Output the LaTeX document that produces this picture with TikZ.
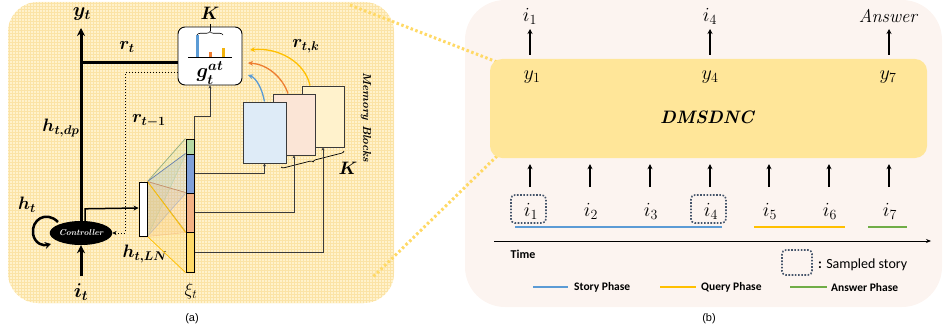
\RequirePackage{fix-cm}
\documentclass[tikz,border=0pt]{standalone}
\usepackage{fontspec}
\usepackage{amsmath}
\newfontfamily\califont{Carlito}
\newfontfamily\arialfont{Liberation Sans}
\usetikzlibrary{arrows.meta,decorations.pathreplacing,calc,shapes.geometric}
\definecolor{panelA}{HTML}{FFF2CC}
\definecolor{gridA}{HTML}{FBE3A6}
\definecolor{panelB}{HTML}{FCF4F0}
\definecolor{dmsbox}{HTML}{FFE699}
\definecolor{dotY}{HTML}{FFD966}
\definecolor{memB}{HTML}{DEEBF7}
\definecolor{memP}{HTML}{FBE5D6}
\definecolor{memY}{HTML}{FFF2CC}
\definecolor{xiG}{HTML}{B5D8A2}
\definecolor{xiB}{HTML}{7F9FD8}
\definecolor{xiO}{HTML}{F4B183}
\definecolor{xiY}{HTML}{FFD966}
\definecolor{lnB}{HTML}{5B9BD5}
\definecolor{lnO}{HTML}{ED7D31}
\definecolor{lnY}{HTML}{FFC000}
\definecolor{lnG}{HTML}{70AD47}
\definecolor{slate}{HTML}{44546A}
\definecolor{wire}{HTML}{3A3A3A}
\tikzset{
  mlab/.style={font=\fontsize{18}{21}\selectfont\boldmath, inner sep=0pt},
  ilab/.style={font=\fontsize{20}{23}\selectfont, inner sep=0pt},
  wirearr/.style={draw=wire, line width=0.9pt, -{Stealth[length=3pt,width=3pt]}},
  membox/.style={draw=wire, line width=0.9pt, minimum width=43pt, minimum height=61pt, inner sep=0pt},
  xiseg/.style={draw=black, line width=1pt, minimum width=8pt, inner sep=0pt},
  ydots/.style={draw=dotY, line width=3pt, dash pattern=on 2.5pt off 2.5pt},
  sampbox/.style={draw=slate, line width=1.6pt, dash pattern=on 1.6pt off 1.6pt, rounded corners=4pt},
  phase/.style={line width=2pt},
  legtxt/.style={font=\califont\bfseries\fontsize{11.5}{13}\selectfont, anchor=west, inner sep=0pt},
}
\begin{document}
\begin{tikzpicture}[x=1pt,y=-1pt]
\useasboundingbox (0,0) rectangle (947,334);
% panels
\fill[panelA, rounded corners=30pt] (8,2) rectangle (394,303);
\begin{scope}
\clip[rounded corners=30pt] (8,2) rectangle (394,303);
\draw[gridA, line width=0.35pt, step=3pt] (8,2) grid (394,303);
\end{scope}
\fill[panelB, rounded corners=40pt] (465,0) rectangle (942,307);

% yellow dotted connectors
\coordinate (za) at (350,5);
\coordinate (zb) at (373,277);
\coordinate (zc) at (497,62);
\coordinate (zd) at (497,156);
\draw[ydots] (za) -- (zc);
\draw[ydots] (zd) -- (zb);

%================ panel (a) ================
% controller
\node[ellipse, fill=black, minimum width=55pt, minimum height=24pt, inner sep=0pt,
      font=\fontsize{8.5}{10}\selectfont\bfseries\itshape, text=white] (ctrl) at (81,233) {Controller};
% g box
\node[draw=black, line width=0.9pt, fill=white, rounded corners=7pt, minimum width=64pt, minimum height=58pt, inner sep=0pt] (g) at (210,56) {};
\node[font=\fontsize{20}{23}\selectfont\boldmath, inner sep=0pt] (glab) at (210,73) {$g_t^{at}$};
\draw[line width=0.9pt] (188,57) -- (232,57);
\fill[lnB] (196,35) rectangle (199,57);
\fill[lnO] (208.5,52) rectangle (211.5,57);
\fill[lnY!80!brown] (221.5,48) rectangle (224.5,57);
\draw[line width=0.6pt, decorate, decoration={brace, amplitude=3.5pt}] (197,35) -- (223,35);
\draw[line width=0.6pt] (210,31.5) -- (210,24);
\node[mlab] (Kg) at (210,13) {$K$};

% h_LN bar
\node[draw=black, line width=0.9pt, fill=white, minimum width=8pt, minimum height=54pt, inner sep=0pt] (hln) at (143,209) {};
\node[mlab] (hlnlab) at (145,254) {$h_{t,LN}$};

% xi segments
\node[xiseg, fill=xiG, minimum height=15pt] (xg) at (190,146.5) {};
\node[xiseg, fill=xiB, minimum height=39pt] (xb) at (190,173.5) {};
\node[xiseg, fill=xiO, minimum height=39pt] (xo) at (190,212.5) {};
\node[xiseg, fill=xiY, minimum height=40pt] (xy) at (190,252) {};
\node[font=\fontsize{18}{21}\selectfont, inner sep=0pt] (xilab) at (191,291) {$\xi_t$};

% fan from h_LN to xi
\foreach \s/\c in {xg/xiG, xb/xiB, xo/xiO, xy/xiY}{
  \fill[\c, opacity=0.18] (hln.north east) -- (\s.north west) -- (\s.south west) -- (hln.south east) -- cycle;
  \draw[\c!80!black, line width=0.7pt] (hln.north east) -- (\s.north west);
  \draw[\c, line width=0.6pt, opacity=0.6] (hln.south east) -- (\s.south west);
}
\draw[lnY, line width=0.7pt] (hln.north east) -- (xo.south west);
\draw[lnY, line width=0.7pt] (hln.south east) -- (xy.south west);
% redraw xi segments on top
\node[xiseg, fill=xiG, minimum height=15pt] at (190,146.5) {};
\node[xiseg, fill=xiB, minimum height=39pt] at (190,173.5) {};
\node[xiseg, fill=xiO, minimum height=39pt] at (190,212.5) {};
\node[xiseg, fill=xiY, minimum height=40pt] at (190,252) {};
\node[draw=black, line width=0.9pt, fill=white, minimum width=8pt, minimum height=54pt, inner sep=0pt] at (143,209) {};

% memory blocks
\node[membox, fill=memY, minimum width=42pt] (my) at (323,116.5) {};
\node[membox, fill=memP, minimum width=42pt] (mp) at (294,124.5) {};
\node[membox, fill=memB] (mb) at (264.5,132.5) {};
\node[font=\fontsize{11.5}{13}\selectfont\bfseries\itshape, rotate=-90, inner sep=0pt] (memlab) at (366,117) {Memory Blocks};
\draw[line width=0.7pt, decorate, decoration={brace, amplitude=3pt}] (344,151) -- (281,167);
\node[mlab] (Km) at (348,168) {$K$};

% wires from xi
\draw[wirearr] (xg.north east) -- ++(0,-22) -| (g.south);
\draw[wirearr] (xb.east) -| (mb.south);
\draw[wirearr] (xo.east) -| (mp.south);
\draw[wirearr] (xy.east) -| (my.south);

% read arrows to g
\draw[lnB, line width=1.3pt, -{Stealth[length=5pt,width=5pt]}] (mb.north) .. controls (262,88) and (256,78) .. (248,75);
\draw[lnO, line width=1.3pt, -{Stealth[length=5pt,width=5pt]}] ($(mp.north)+(-6,0)$) .. controls (282,76) and (266,64) .. (248,63);
\draw[lnY, line width=1.3pt, -{Stealth[length=5pt,width=5pt]}] ($(my.north)+(-13,0)$) .. controls (305,62) and (278,47) .. (250,50);
\node[mlab] (rtk) at (306,46) {$r_{t,k}$};

% y_t output
\coordinate (ytop) at (81,28);
\draw[line width=3pt, -{Stealth[length=8pt,width=8pt]}] (ctrl.north) -- (ytop);
\node[font=\fontsize{20}{23}\selectfont\boldmath, inner sep=0pt] (ylab) at (82,14) {$y_t$};
\coordinate (rt) at (81,63);
\draw[line width=3pt] (rt) -- (rt -| g.west);
\node[mlab] (rtlab) at (127,47) {$r_t$};
\node[mlab] (hdp) at (61,128) {$h_{t,dp}$};
% r_{t-1}
\coordinate (c73) at (0,73);
\coordinate (c125) at (125,73);
\coordinate (c208) at (0,208);
\draw[line width=1pt, dotted, -{Stealth[length=4pt,width=4pt]}] (g.west |- c73) -- (c125) -- (c125 |- ctrl.east) -- (ctrl.east);
\node[mlab] (rt1) at (149,121) {$r_{t-1}$};
% branch to h_LN
\draw[line width=1.5pt, -{Stealth[length=5pt,width=5pt]}] ($(ctrl.north)+(4,1)$) -- ++(0,-13) -- (hln.west |- c208);
% self loop
\draw[line width=2.5pt, -{Stealth[length=6pt,width=7pt]}] (58,222) .. controls (46,210) and (31,220) .. (33,234) .. controls (35,244) and (43,246) .. (51,244);
\node[mlab] (htlab) at (27,205) {$h_t$};
% input
\coordinate (itb) at (81,276);
\draw[line width=3pt, -{Stealth[length=8pt,width=8pt]}] (itb) -- (ctrl.south);
\node[font=\fontsize{20}{23}\selectfont\boldmath, inner sep=0pt] (itlab) at (81,292) {$i_t$};

\node[font=\arialfont\fontsize{11}{13}\selectfont, inner sep=0pt] (capa) at (192,319) {(a)};

%================ panel (b) ================
\node[fill=dmsbox, rounded corners=12pt, minimum width=437pt, minimum height=99pt, inner sep=0pt] (dms) at (708.5,108.5) {};
\node[font=\fontsize{18}{21}\selectfont\bfseries\itshape, inner sep=0pt] (dmslab) at (707,117) {DMSDNC};
\node[ilab] (y1) at (532,77) {$y_1$};
\node[ilab] (y4) at (710,77) {$y_4$};
\node[ilab] (y7) at (888,77) {$y_7$};
\node[ilab] (o1) at (530,16) {$i_1$};
\node[ilab] (o4) at (710,16) {$i_4$};
\node[ilab, font=\fontsize{18.5}{21}\selectfont\itshape] (o7) at (888,16) {Answer};
\foreach \x in {530,710,889}{
  \draw[line width=2pt, -{Stealth[length=5pt,width=5pt]}] (\x,55) -- (\x,29);
}
\foreach \n/\x in {1/530,2/590,3/650,4/710,5/769,6/829,7/889}{
  \node[ilab] (in\n) at (\x+1,211) {$i_{\n}$};
  \draw[line width=2pt, -{Stealth[length=5pt,width=5pt]}] ($(in\n)+(-1,-24)$) -- ($(in\n |- dms.south)+(-1,6)$);
}
\draw[sampbox] (511,195) rectangle (546,223);
\draw[sampbox] (691,195) rectangle (726,223);
\draw[phase, lnB] (515,227) -- (722,227);
\draw[phase, lnY] (754,227) -- (845,227);
\draw[phase, lnG] (868,227) -- (907,227);
\coordinate (t0) at (494,241);
\coordinate (t1) at (931,241);
\draw[line width=1pt, -{Stealth[length=5pt,width=4pt]}] (t0) -- (t1);
\node[font=\califont\bfseries\fontsize{12}{14}\selectfont, inner sep=0pt] (time) at (523,254) {Time};
\draw[sampbox] (782,250) rectangle (812,275);
\node[font=\califont\fontsize{14}{16}\selectfont, anchor=west, inner sep=0pt] (samp) at (818,265) {\textbf{:} Sampled story};
\draw[phase, lnB] (533,287) -- (568,287);
\node[legtxt] (lst) at (574,287.5) {Story Phase};
\draw[phase, lnY] (660,287) -- (696,287);
\node[legtxt] (lq) at (701,287.5) {Query Phase};
\draw[phase, lnG] (790,287) -- (827,287);
\node[legtxt] (la) at (831,287.5) {Answer Phase};
\node[font=\arialfont\fontsize{11}{13}\selectfont, inner sep=0pt] (capb) at (709,319) {(b)};
\end{tikzpicture}
\end{document}
